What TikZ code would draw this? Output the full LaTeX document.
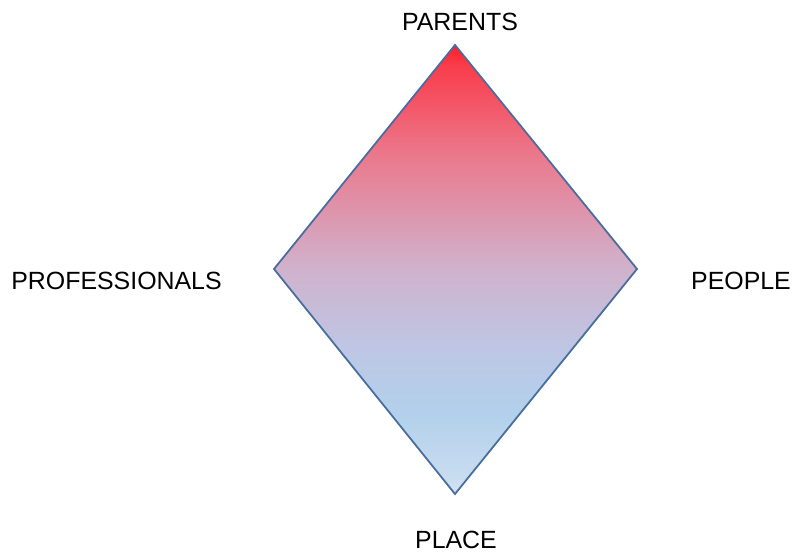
\documentclass[tikz,border=0pt]{standalone}
\usepackage{fontspec}
\setmainfont{Liberation Sans}
\definecolor{edgeblue}{RGB}{72,110,158}
\definecolor{cA}{RGB}{255,30,40}
\definecolor{cB}{RGB}{250,60,75}
\definecolor{cC}{RGB}{235,120,140}
\definecolor{cD}{RGB}{208,178,205}
\definecolor{cE}{RGB}{188,200,230}
\definecolor{cF}{RGB}{178,208,235}
\definecolor{cG}{RGB}{200,220,240}
\definecolor{cH}{RGB}{212,226,243}
\pgfdeclareverticalshading{diamondgrad}{100bp}{color(0bp)=(cH); color(25bp)=(cH); color(27bp)=(cG); color(34bp)=(cF); color(40.5bp)=(cE); color(50bp)=(cD); color(62.75bp)=(cC); color(72.8bp)=(cB); color(75bp)=(cA); color(100bp)=(cA)}
\tikzset{
  lbl/.style={font=\fontsize{25}{29}\selectfont, inner sep=0pt, text=black},
  diamondshape/.style={draw=edgeblue, line width=1.8pt, line join=miter, shading=diamondgrad}
}
\begin{document}
\begin{tikzpicture}[x=1bp,y=-1bp]
\useasboundingbox (0,0) rectangle (792,552);
\coordinate (top) at (455,45);
\coordinate (left) at (274,269);
\coordinate (right) at (637,269);
\coordinate (bottom) at (455,494);
\path[diamondshape] (top) -- (right) -- (bottom) -- (left) -- cycle;
\node[lbl] (parents) at (460,21.5) {PARENTS};
\node[lbl] (professionals) at (116.5,281) {PROFESSIONALS};
\node[lbl] (people) at (741,281) {PEOPLE};
\node[lbl] (place) at (456,539.5) {PLACE};
\end{tikzpicture}
\end{document}
